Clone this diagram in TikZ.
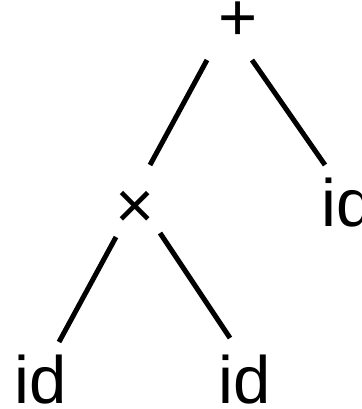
\documentclass[tikz,border=0pt]{standalone}
\usepackage{fontspec}
\setmainfont{Liberation Sans}
\usetikzlibrary{calc}
\begin{document}
\begin{tikzpicture}[x=1pt,y=1pt,
  lbl/.style={inner sep=0pt,font=\fontsize{67}{67}\selectfont},
  edge/.style={line width=5pt,line cap=butt}]
\useasboundingbox (0,0) rectangle (361,-409);
\node[lbl,anchor=center] (plus) at (238,-21) {+};
\node[lbl,anchor=center] (times) at (135,-210) {×};
\node[lbl,anchor=base] (rid) at (348,-226) {id};
\node[lbl,anchor=base] (lid) at (40.5,-403) {id};
\node[lbl,anchor=base] (mid) at (244.5,-403) {id};
\draw[edge] ($(plus.center)+(-31,-39)$) -- ($(times.center)+(15,45)$);
\draw[edge] ($(plus.center)+(14,-39)$) -- ($(rid.base)+(-23,61)$);
\draw[edge] ($(times.center)+(-19,-27)$) -- ($(lid.base)+(18.5,61)$);
\draw[edge] ($(times.center)+(25,-23)$) -- ($(mid.base)+(-14.5,65)$);
\end{tikzpicture}
\end{document}
